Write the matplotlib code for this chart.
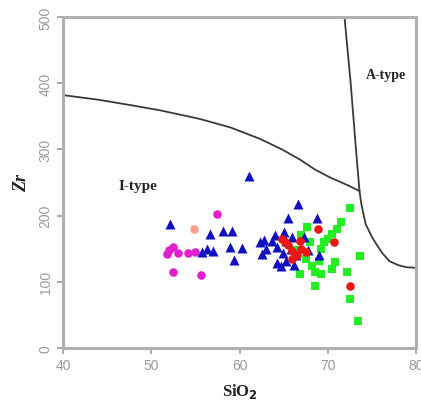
import matplotlib
matplotlib.use("Agg")
import matplotlib.pyplot as plt

# Boundary curves (SiO2, Zr)
itype_x = [40, 44, 47.6, 51, 55.5, 59, 62.3, 64.8, 66.8, 68.5, 70.2, 72.4, 73.6]
itype_y = [382, 375, 367, 359, 346, 333, 316, 300, 285, 270, 258, 245, 237]
atype_x = [71.9, 72.6, 73.2, 73.6, 73.8, 74.3, 75.0, 75.5, 76.2, 77.0, 78.0, 78.9, 80]
atype_y = [500, 400, 300, 237, 218, 187, 168, 157, 143, 131, 125, 122, 121]

# Data series
blue_x = [52.1, 56.6, 58.1, 59.1, 58.9, 60.3, 59.4, 56.3, 55.7, 57.0, 61.1, 62.3, 62.8, 62.6,
          63.7, 64.2, 64.9, 64.2, 64.7, 65.3, 66.0, 65.3, 66.6, 65.5, 68.8, 69.0, 67.3, 65.8,
          66.4, 63.0, 64.0, 65.0, 67.8, 66.2]
blue_y = [188, 172, 177, 176, 153, 151, 133, 150, 145, 146, 260, 160, 163, 142,
          162, 152, 143, 128, 124, 162, 167, 132, 218, 197, 196, 140, 167, 150,
          140, 150, 170, 175, 148, 125]

magenta_x = [52.0, 52.5, 53.0, 54.2, 55.0, 52.5, 55.6, 57.5, 51.8]
magenta_y = [148, 152, 143, 144, 145, 115, 110, 203, 142]

salmon_x = [54.8]
salmon_y = [180]

red_x = [64.8, 65.5, 66.0, 66.5, 67.0, 67.5, 66.0, 68.9, 70.7, 72.5, 65.2, 66.8]
red_y = [165, 155, 146, 140, 150, 145, 135, 180, 160, 93, 160, 162]

green_x = [72.5, 71.5, 71.0, 70.5, 70.0, 69.6, 67.6, 67.0, 68.0, 69.2, 73.6, 72.2, 72.5,
           73.4, 68.5, 66.8, 68.5, 69.2, 70.5, 68.2, 69.0, 67.5, 66.5, 70.8]
green_y = [212, 190, 180, 172, 165, 160, 182, 170, 160, 150, 139, 114, 74,
           41, 94, 111, 115, 112, 120, 124, 131, 135, 148, 130]

xticks = [40, 50, 60, 70, 80]
yticks = [0, 100, 200, 300, 400, 500]

fig = plt.figure(figsize=(4.21, 4.10), dpi=100)
ax = fig.add_axes([0.150, 0.149, 0.838, 0.807])

ax.plot(itype_x, itype_y, color="#3a3a3a", lw=1.3, zorder=2)
ax.plot(atype_x, atype_y, color="#3a3a3a", lw=1.3, zorder=2)

ax.scatter(magenta_x, magenta_y, marker="o", s=38, color="#e020d0", zorder=3, linewidths=0)
ax.scatter(salmon_x, salmon_y, marker="o", s=38, color="#f4a08c", zorder=3, linewidths=0)
ax.scatter(green_x, green_y, marker="s", s=34, color="#22ee22", zorder=3, linewidths=0)
ax.scatter(red_x, red_y, marker="o", s=38, color="#ee1515", zorder=4, linewidths=0)
ax.scatter(blue_x, blue_y, marker="^", s=52, color="#1010c0", zorder=3, linewidths=0)

ax.set_xlim(40, 80)
ax.set_ylim(0, 500)
ax.set_xticks(xticks)
ax.set_yticks(yticks)
ax.set_xticklabels([str(t) for t in xticks], family="Liberation Sans", fontsize=10, color="#777777")
ax.set_yticklabels([str(t) for t in yticks], family="Liberation Sans", fontsize=10, color="#777777",
                   rotation=90, va="center")
for s in ax.spines.values():
    s.set_color("#b0b0b0")
    s.set_linewidth(2.2)
ax.tick_params(colors="#999999", length=4, width=1.2, direction="out")

ax.text(48.5, 245, "I-type", family="Liberation Serif", fontweight="bold", fontsize=11,
        ha="center", va="center", color="#222222")
ax.text(76.6, 413, "A-type", family="Liberation Serif", fontweight="bold", fontsize=10,
        ha="center", va="center", color="#222222")

ax.set_xlabel(r"SiO$_\mathbf{2}$", family="Liberation Serif", fontweight="bold", fontsize=12,
              color="#222222", labelpad=6)
ax.set_ylabel("Zr", family="Liberation Serif", fontweight="bold", style="italic", fontsize=13,
              color="#222222", labelpad=6)

fig.savefig("out.png", dpi=100)
